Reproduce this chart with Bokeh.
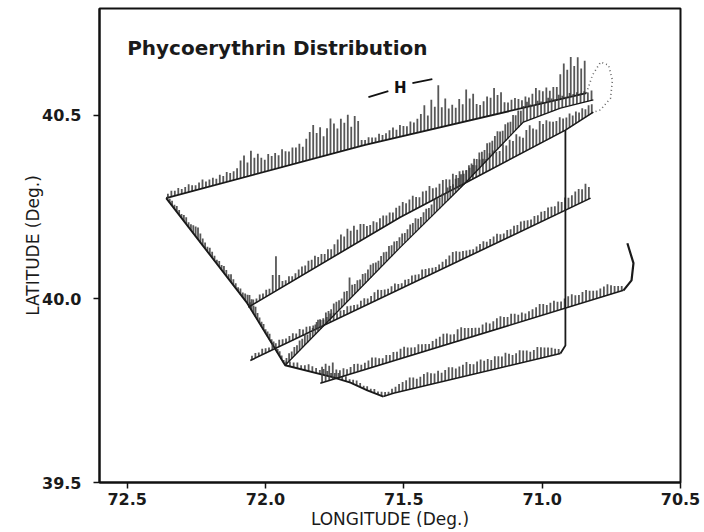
import numpy as np
from bokeh.plotting import figure
from bokeh.models import Range1d, FixedTicker, Label, NumeralTickFormatter
from bokeh.embed import file_html
from bokeh.resources import INLINE
from bokeh.core.properties import value

# ---------------- data ----------------
# Ship-track legs: waypoints in longitude (deg W) / latitude (deg N)
leg_a_lon = [72.359, 71.643, 70.840]                 # northern leg
leg_a_lat = [40.274, 40.418, 40.560]
leg_a_pe = [4, 6, 5, 7, 5, 6, 8, 6, 5, 7, 9, 6, 7, 8, 6, 9, 7, 10, 8, 9, 11,
            18, 22, 14, 25, 17, 20,
            15, 12, 17, 14, 16, 13, 18, 15, 14, 17, 16, 19, 15,
            22, 28, 34, 25, 30, 20, 27,
            36, 30, 24, 33, 28, 35, 22, 32, 26,
            6, 5, 7, 6, 5, 8, 6, 7,
            9, 11, 8, 12, 10, 9, 13, 11, 14,
            18, 26, 15, 30, 22, 43, 20, 28, 17,
            20, 16, 24, 18,
            32, 22, 26,
            15, 13, 16,
            20, 18, 27, 19, 21,
            10, 9, 11, 12, 10, 8, 11, 9, 12,
            17, 14,
            12, 15, 11, 14, 13,
            25, 35, 28, 40, 30, 38, 26, 33]

leg_v_lon = [72.359, 72.066, 71.929, 71.755, 71.693, 71.632, 71.574]   # south-east diagonal
leg_v_lat = [40.274, 39.988, 39.819, 39.786, 39.772, 39.751, 39.734]
leg_v_pe = [3, 4, 5, 4, 6, 5, 4, 6, 7, 5, 6, 8, 10, 12, 9, 7, 6, 5, 7, 6, 5, 4,
            6, 5, 7, 6, 5, 8, 6, 5, 4, 6, 5, 7, 9, 12, 11, 8, 10, 7, 6, 5, 6, 4,
            5, 6, 4, 5, 3, 4, 5, 4, 3, 4, 5,
            5, 6, 4, 5, 7, 6, 5, 4, 6, 5, 4, 5, 6, 4, 5, 3, 4, 5, 4, 3, 4, 3, 4, 3, 4]

leg_e_lon = [71.574, 71.538, 70.934]                 # southern leg
leg_e_lat = [39.734, 39.743, 39.851]
leg_e_pe = [4, 3, 5, 6, 8, 9, 10, 12, 11, 9, 10, 12, 13, 11, 10, 12, 9, 11, 13, 12,
            10, 11, 12, 14, 11, 10, 12, 13, 11, 12, 10, 13, 12, 11, 14, 12, 10, 11,
            13, 12, 11, 9, 10, 12, 11, 10, 9, 8, 6, 5]

leg_d_lon = [70.916, 70.916, 70.934]                 # meridional run (no data)
leg_d_lat = [40.459, 39.873, 39.851]

leg_g_lon = [71.802, 70.706]                         # lower parallel leg
leg_g_lat = [39.770, 40.023]
leg_g_pe = [16, 18, 15, 17, 9, 7, 8, 6, 7, 9, 8, 6, 7, 8, 10, 9, 7, 6, 8, 7, 9, 8,
            10, 11, 9, 8, 7, 9, 8, 7, 6, 8, 9, 10, 12, 11, 9, 8, 12, 13, 11, 10, 9,
            8, 7, 9, 10, 8, 9, 11, 12, 10, 9, 11, 10, 8, 9, 7, 8, 9, 10, 12, 11, 9,
            10, 11, 9, 8, 10, 11, 12, 10, 9, 11, 12, 10, 9, 8, 9, 10, 11, 9, 7, 6, 5]
hook_g_lon = [70.706, 70.677, 70.670, 70.692]
hook_g_lat = [40.023, 40.050, 40.097, 40.151]

leg_f_lon = [72.055, 70.825]                         # middle parallel leg
leg_f_lat = [39.832, 40.274]
leg_f_pe = [4, 5, 4, 6, 5, 4, 6, 5, 7, 6, 5, 6, 7, 5, 8, 6, 7, 6, 5, 7, 8, 6, 7, 9,
            8, 6, 7, 6, 8, 7, 6, 5, 7, 8, 6, 7, 9, 10, 8, 7, 6, 7, 8, 6, 5, 7, 6, 8,
            7, 6, 9, 8, 7, 6, 5, 6, 7, 8, 10, 12, 11, 9, 8, 7, 6, 5, 6, 7, 8, 6, 7,
            8, 9, 7, 6, 8, 7, 9, 8, 10, 9, 8, 7, 9, 8, 10, 9, 11, 10, 9, 12, 10, 13,
            11, 12, 14, 15, 13, 17, 12]

leg_b_lon = [72.062, 71.513, 71.278, 70.916, 70.815]  # upper diagonal leg
leg_b_lat = [39.977, 40.222, 40.315, 40.459, 40.508]
leg_b_pe = [4, 5, 4, 6, 5, 7, 6,
            18, 35, 14,
            6, 5, 7, 5, 6, 8,
            9, 8, 11, 10, 12, 9, 10, 8, 11, 9,
            12, 15, 18, 14, 20, 16, 19, 13, 17, 15,
            11, 10, 12, 9, 11, 12, 10, 11, 9, 12,
            12, 14, 11, 13, 15, 12, 10, 14, 13, 16, 12, 11, 13, 15, 14, 12, 16, 13, 15, 14, 12, 13,
            14, 12, 16, 15, 13, 17, 18, 15, 14, 19, 16, 20, 17, 22, 18, 15, 21, 24, 19, 16,
            23, 18, 20, 17, 15, 14, 16, 13, 12, 14,
            10, 12, 9, 11, 8, 10, 9]

leg_c_lon = [71.929, 71.513, 71.278, 71.068, 70.934, 70.815]  # steep diagonal leg
leg_c_lat = [39.819, 40.140, 40.315, 40.481, 40.519, 40.541]
leg_c_pe = [6, 8, 7, 9, 8, 10, 9, 11, 8, 7, 9, 10, 12, 9, 8, 11, 10, 9, 12, 11, 10, 9,
            13, 11, 22, 12, 10, 11, 9, 12, 10, 11, 13, 12, 10, 9, 11, 12, 10, 13, 11, 12,
            10, 11,
            12, 10, 11, 13, 12, 14, 11, 10, 12, 13, 11, 12, 14, 13, 11, 12, 10, 13, 12,
            11, 14, 12, 13, 11,
            12, 14, 13, 15, 12, 16, 14, 13, 17, 15, 14, 16, 18, 15, 13, 17, 16, 14, 18,
            15, 17, 14, 16, 19, 15, 13, 16, 14, 12, 15, 13, 11, 14, 12, 10, 13, 11, 12,
            10, 11, 9, 10]

loop_lon = [70.840, 70.818, 70.789, 70.760, 70.746, 70.753, 70.789, 70.815]  # NE turn
loop_lat = [40.560, 40.609, 40.644, 40.636, 40.595, 40.546, 40.514, 40.508]

h_dash1_lon = [71.628, 71.556]
h_dash1_lat = [40.549, 40.565]
h_dash2_lon = [71.469, 71.397]
h_dash2_lat = [40.587, 40.598]
h_text_lon = [71.513]
h_text_lat = [40.574]

x_ticks = [72.5, 72.0, 71.5, 71.0, 70.5]
y_ticks = [39.5, 40.0, 40.5]

# ---------------- figure ----------------
X0, X1 = 72.60, 70.5
Y0, Y1 = 39.5, 40.79
W, H = 704, 532
BL, BR, BT, BB = 99, 24, 8, 50
FW, FH = W - BL - BR, H - BT - BB
PE_SCALE = 0.0027   # degrees of latitude per PE unit

p = figure(width=W, height=H, output_backend="svg", toolbar_location=None,
           x_range=Range1d(X0, X1), y_range=Range1d(Y0, Y1),
           min_border_left=BL, min_border_right=BR, min_border_top=BT,
           min_border_bottom=BB, background_fill_color="white",
           border_fill_color="white")
p.grid.visible = False
p.outline_line_color = "#111111"
p.outline_line_width = 2

FONT = "DejaVu Sans"
p.xaxis.ticker = FixedTicker(ticks=x_ticks)
p.yaxis.ticker = FixedTicker(ticks=y_ticks)
for ax in (p.xaxis[0], p.yaxis[0]):
    ax.formatter = NumeralTickFormatter(format="0.0")
    ax.axis_line_color = "#111111"
    ax.axis_line_width = 2
    ax.major_tick_line_color = "#111111"
    ax.major_tick_line_width = 1.5
    ax.major_tick_out = 6
    ax.major_tick_in = 0
    ax.minor_tick_line_color = None
    ax.major_label_text_font = FONT
    ax.major_label_text_font_size = "16px"
    ax.major_label_text_font_style = "bold"
    ax.major_label_text_color = "#1a1a1a"
    ax.axis_label_text_font = FONT
    ax.axis_label_text_font_size = "17px"
    ax.axis_label_text_font_style = "normal"
    ax.axis_label_text_color = "#1a1a1a"
p.xaxis.axis_label = "LONGITUDE (Deg.)"
p.yaxis.axis_label = "LATITUDE (Deg.)"
p.xaxis.major_label_standoff = 4
p.xaxis.axis_label_standoff = 1
p.yaxis.major_label_standoff = 12
p.yaxis.axis_label_standoff = -4

px_lon = FW / (X0 - X1)
px_lat = FH / (Y1 - Y0)


def sticks_along(lons, lats, pe):
    lons = np.asarray(lons, float)
    lats = np.asarray(lats, float)
    seg = np.hypot(np.diff(lons) * px_lon, np.diff(lats) * px_lat)
    s = np.concatenate([[0.0], np.cumsum(seg)])
    n = len(pe)
    si = (np.arange(n) + 0.5) / n * s[-1]
    x = np.interp(si, s, lons)
    y = np.interp(si, s, lats)
    return x, y, y + np.asarray(pe, float) * PE_SCALE


STICK = "#3a3a3a"
legs = [(leg_a_lon, leg_a_lat, leg_a_pe, 1.8),
        (leg_v_lon, leg_v_lat, leg_v_pe, 1.9),
        (leg_e_lon, leg_e_lat, leg_e_pe, 1.6),
        (leg_g_lon, leg_g_lat, leg_g_pe, 1.6),
        (leg_f_lon, leg_f_lat, leg_f_pe, 1.6),
        (leg_b_lon, leg_b_lat, leg_b_pe, 1.6),
        (leg_c_lon, leg_c_lat, leg_c_pe, 1.3)]
for lons, lats, pe, lw in legs:
    x, y0, y1 = sticks_along(lons, lats, pe)
    p.segment(x0=x, y0=y0, x1=x, y1=y1, line_color=STICK, line_width=1.8,
              line_alpha=0.85)
    p.line(lons, lats, line_color="#1a1a1a", line_width=lw)

p.line(leg_d_lon, leg_d_lat, line_color="#1a1a1a", line_width=1.8)
p.line(hook_g_lon, hook_g_lat, line_color="#1a1a1a", line_width=2.2)
p.line(loop_lon, loop_lat, line_color="#666666", line_width=1.6, line_dash="1 3")

p.line(h_dash1_lon, h_dash1_lat, line_color="#111111", line_width=1.8)
p.line(h_dash2_lon, h_dash2_lat, line_color="#111111", line_width=1.8)
p.text(x=h_text_lon, y=h_text_lat, text=["H"], text_font=value(FONT),
       text_font_size="15px", text_font_style="bold", text_align="center",
       text_baseline="middle", text_color="#111111")

title = Label(x=72.5, y=40.683, text="Phycoerythrin Distribution",
              text_font=FONT, text_font_size="20px", text_font_style="bold",
              text_color="#1a1a1a", text_baseline="alphabetic", text_align="left")
p.add_layout(title)

open("out.html", "w").write(file_html(p, INLINE))
